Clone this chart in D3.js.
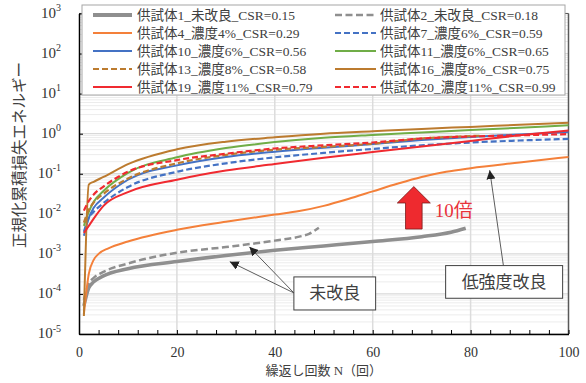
<!DOCTYPE html>
<html><head><meta charset="utf-8">
<script src="https://cdn.jsdelivr.net/npm/d3@7"></script>
<style>
body{margin:0;background:#fff;}
svg{display:block;}
text{font-family:"Liberation Serif","Noto Sans CJK JP",serif;}
</style></head><body>
<svg id="chart" width="586" height="383"></svg>
<script>
// Cycle numbers N for each specimen
const nFull  = [1,2,3,5,10,20,30,40,50,60,70,80,90,100];
const nSpec1 = [1,2,3,5,10,20,30,40,50,60,70,76,79];
const nSpec2 = [1,2,3,5,10,20,30,40,45,47,49];
const nSpec4 = [1,2,3,4,6,10,20,30,40,45,50,55,60,65,70,75,80,90,100];
const nSpec13 = [1,2,3,5,10,20,30,40,50,60,70,80,82];

// Normalized cumulative dissipated energy
const spec1  = [5.0e-5,1.41e-4,2.0e-4,2.82e-4,4.27e-4,6.46e-4,9.12e-4,1.23e-3,1.58e-3,2.04e-3,2.69e-3,3.47e-3,4.37e-3];
const spec2  = [7.1e-5,1.78e-4,2.51e-4,3.55e-4,5.75e-4,1.07e-3,1.48e-3,2.14e-3,2.69e-3,3.16e-3,4.47e-3];
const spec4  = [3.16e-5,3.16e-4,7.08e-4,1.0e-3,1.38e-3,2.04e-3,3.98e-3,6.31e-3,9.55e-3,0.0117,0.0158,0.0234,0.0363,0.0562,0.0832,0.112,0.138,0.191,0.263];
const spec7  = [0.00355,0.00794,0.0112,0.0186,0.0468,0.112,0.182,0.257,0.331,0.417,0.513,0.603,0.676,0.741];
const spec10 = [0.00282,0.00794,0.0141,0.0251,0.0708,0.162,0.263,0.355,0.447,0.550,0.692,0.832,0.955,1.096];
const spec11 = [0.00501,0.0112,0.0200,0.0372,0.105,0.257,0.437,0.617,0.794,0.933,1.072,1.230,1.413,1.622];
const spec13 = [0.00603,0.0126,0.0191,0.0316,0.0759,0.182,0.295,0.398,0.468,0.562,0.759,0.871,0.891];
const spec16 = [2.8e-5,0.0537,0.0631,0.0832,0.174,0.407,0.631,0.813,1.0,1.148,1.318,1.479,1.660,1.862];
const spec19 = [0.00331,0.00501,0.00759,0.0158,0.0347,0.0708,0.120,0.174,0.251,0.347,0.479,0.661,0.912,1.202];
const spec20 = [0.0120,0.0209,0.0302,0.0479,0.112,0.219,0.316,0.427,0.513,0.603,0.759,0.851,0.912,0.977];

const seriesNames = [
  "供試体1_未改良_CSR=0.15","供試体2_未改良_CSR=0.18",
  "供試体4_濃度4%_CSR=0.29","供試体7_濃度6%_CSR=0.59",
  "供試体10_濃度6%_CSR=0.56","供試体11_濃度6%_CSR=0.65",
  "供試体13_濃度8%_CSR=0.58","供試体16_濃度8%_CSR=0.75",
  "供試体19_濃度11%_CSR=0.79","供試体20_濃度11%_CSR=0.99"
];
const seriesN = [nSpec1,nSpec2,nSpec4,nFull,nFull,nFull,nSpec13,nFull,nFull,nFull];
const seriesV = [spec1,spec2,spec4,spec7,spec10,spec11,spec13,spec16,spec19,spec20];

const yTickExp = [-5,-4,-3,-2,-1,0,1,2,3];
const xTickLabels = [0,20,40,60,80,100];

// Styles
const colors = ["#8f8f8f","#8f8f8f","#f4803a","#4472c4","#4472c4","#70ad47","#bc7b2f","#bc7b2f","#f02a30","#f02a30"];
const dashes = [null,"7,3.5",null,"6,3",null,null,"6,3",null,null,"6,3"];
const widths = [3.5,2.5,2,2.2,2,2,2.2,2,2,2.2];

const svg = d3.select("#chart");
const L = 79, R = 568.5, T = 13.5, B = 334;
const x = d3.scaleLinear().domain([0,100]).range([L,R]);
const y = d3.scaleLog().domain([1e-5,1e3]).range([B,T]);

// grid
const grid = svg.append("g");
const minor = [];
for (let e=-5; e<3; e++) for (let k=2; k<10; k++) minor.push(k*Math.pow(10,e));
grid.selectAll(".mn").data(minor).join("line")
  .attr("x1",L).attr("x2",R).attr("y1",d=>y(d)).attr("y2",d=>y(d))
  .attr("stroke","#ececec").attr("stroke-width",1);
grid.selectAll(".mj").data(yTickExp.map(e=>Math.pow(10,e))).join("line")
  .attr("x1",L).attr("x2",R).attr("y1",d=>y(d)).attr("y2",d=>y(d))
  .attr("stroke","#d9d9d9").attr("stroke-width",1.3);
grid.selectAll(".vg").data([20,40,60,80]).join("line")
  .attr("x1",d=>x(d)).attr("x2",d=>x(d)).attr("y1",T).attr("y2",B)
  .attr("stroke","#dcdcdc").attr("stroke-width",1.5);

// right / top frame
svg.append("line").attr("x1",R).attr("x2",R).attr("y1",T).attr("y2",B)
  .attr("stroke","#595959").attr("stroke-width",1.5);
svg.append("line").attr("x1",L).attr("x2",R).attr("y1",T).attr("y2",T)
  .attr("stroke","#595959").attr("stroke-width",1);

// series
const line = d3.line().curve(d3.curveMonotoneX).x(d=>x(d[0])).y(d=>y(d[1]));
const gLines = svg.append("g");
seriesV.forEach((vals,i)=>{
  const pts = vals.map((v,j)=>[seriesN[i][j],v]);
  gLines.append("path").attr("d",line(pts)).attr("fill","none")
    .attr("stroke",colors[i]).attr("stroke-width",widths[i])
    .attr("stroke-dasharray",dashes[i]).attr("stroke-linejoin","round");
});

// axes
const xAxis = d3.axisBottom(x).tickValues(d3.range(0,101,4)).tickSizeInner(-4).tickSizeOuter(0)
  .tickPadding(13).tickFormat(d=>xTickLabels.includes(d)?d:"");
const gx = svg.append("g").attr("transform",`translate(0,${B})`).call(xAxis);
gx.select(".domain").attr("stroke","#000").attr("stroke-width",1.5);
gx.selectAll(".tick line").attr("stroke","#000").attr("stroke-width",1);
gx.selectAll("text").attr("font-size",14).attr("fill","#333")
  .attr("font-family","Liberation Serif");

const yAxis = d3.axisLeft(y).tickValues(yTickExp.map(e=>Math.pow(10,e))).tickSizeInner(-4).tickSizeOuter(0)
  .tickPadding(18).tickFormat("");
const gy = svg.append("g").attr("transform",`translate(${L},0)`).call(yAxis);
gy.select(".domain").attr("stroke","#000").attr("stroke-width",1.5);
gy.selectAll(".tick line").attr("stroke","#000").attr("stroke-width",1);
gy.selectAll(".tick text").each(function(d){
  const t = d3.select(this).attr("fill","#333").attr("font-family","Liberation Serif").attr("dy","0.35em");
  t.append("tspan").attr("font-size",15).text("10");
  t.append("tspan").attr("font-size",10).attr("dy","-0.65em").text(String(Math.round(Math.log10(d))));
});

// axis titles
svg.append("text").attr("x",(L+R)/2).attr("y",375).attr("text-anchor","middle")
  .attr("font-size",13).attr("fill","#404040").text("繰返し回数 N（回）");
svg.append("text").attr("transform","translate(25,155) rotate(-90)").attr("text-anchor","middle")
  .attr("font-size",15.5).attr("fill","#404040").text("正規化累積損失エネルギー");

// legend
const lg = svg.append("g");
lg.append("rect").attr("x",82).attr("y",5).attr("width",483).attr("height",90)
  .attr("fill","#fff").attr("stroke","#a6a6a6").attr("stroke-width",1);
seriesNames.forEach((nm,i)=>{
  const row = Math.floor(i/2), col = i%2;
  const yy = 15 + row*18;
  const lx0 = col ? 335 : 93, lx1 = col ? 376 : 132, tx = col ? 380 : 137;
  lg.append("line").attr("x1",lx0).attr("x2",lx1).attr("y1",yy).attr("y2",yy)
    .attr("stroke",colors[i]).attr("stroke-width",i===0?4:(i===1?2.5:2.2))
    .attr("stroke-dasharray",dashes[i]);
  lg.append("text").attr("x",tx).attr("y",yy+5).attr("font-size",13.5)
    .attr("fill","#404040").text(nm);
});

// annotations
const defs = svg.append("defs");
defs.append("marker").attr("id","ah").attr("viewBox","0 0 10 10").attr("refX",10).attr("refY",5)
  .attr("markerWidth",9).attr("markerHeight",9).attr("markerUnits","userSpaceOnUse").attr("orient","auto")
  .append("path").attr("d","M0,0L10,5L0,10Z").attr("fill","#222");

const ann = svg.append("g");
function arrow(n0,v0,n1,v1){
  ann.append("line").attr("x1",x(n0)).attr("y1",y(v0)).attr("x2",x(n1)).attr("y2",y(v1))
    .attr("stroke","#333").attr("stroke-width",0.8).attr("marker-end","url(#ah)");
}
function box(n0,n1,vTop,vBot,label){
  ann.append("rect").attr("x",x(n0)).attr("y",y(vTop)).attr("width",x(n1)-x(n0)).attr("height",y(vBot)-y(vTop))
    .attr("fill","#fff").attr("stroke","#404040").attr("stroke-width",1);
  ann.append("text").attr("x",(x(n0)+x(n1))/2).attr("y",(y(vTop)+y(vBot))/2+6)
    .attr("text-anchor","middle").attr("font-size",17).attr("fill","#404040").text(label);
}
arrow(43.9,1.06e-4,30.8,6.4e-4);
arrow(43.9,1.06e-4,34.8,1.5e-3);
box(43.9,60.6,2.66e-4,3.98e-5,"未改良");
arrow(86.7,5.1e-4,83.9,0.123);
box(74.9,98.8,5.1e-4,7.8e-5,"低強度改良");

// tenfold increase arrow
const ax = x(68.4), aTip = y(Math.pow(10,-1.32)), aBase = y(Math.pow(10,-1.73)), aBot = y(Math.pow(10,-2.38));
ann.append("path")
  .attr("d",`M${ax},${aTip}L${ax+16.5},${aBase}L${ax+8.3},${aBase}L${ax+8.3},${aBot}L${ax-8.3},${aBot}L${ax-8.3},${aBase}L${ax-16.5},${aBase}Z`)
  .attr("fill","#ee2a2f").attr("stroke","#7a1a1a").attr("stroke-width",0.8);
ann.append("text").attr("x",x(72.7)).attr("y",y(Math.pow(10,-2.07))).attr("font-size",19)
  .attr("fill","#e8323a").text("10倍");
</script>
</body></html>
